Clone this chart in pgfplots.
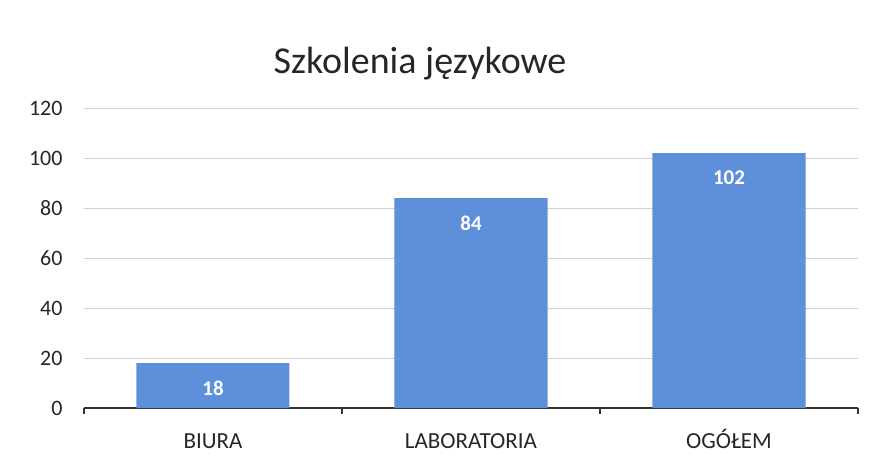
\documentclass[border=0pt]{standalone}
\usepackage{fontspec}
\setmainfont{Carlito}
\usepackage{pgfplots}
\pgfplotsset{compat=1.18}
\definecolor{barblue}{HTML}{5D8FDB}
\definecolor{gridgray}{HTML}{D0D0D0}
\begin{document}
\begin{tikzpicture}
\begin{axis}[
  scale only axis,
  width=774pt, height=300pt,
  xmin=-0.5, xmax=2.5,
  ymin=0, ymax=120,
  ytick={0,20,...,120},
  xtick={0,1,2},
  xticklabels={BIURA,LABORATORIA,OGÓŁEM},
  /pgf/number format/assume math mode=true,
  ymajorgrids, grid style={gridgray, line width=1pt},
  axis x line*=bottom,
  axis y line*=left,
  y axis line style={draw=none},
  x axis line style={line width=1.8pt, black!80, -},
  xtick style={draw=none},
  ytick style={draw=none},
  extra x ticks={-0.5,0.5,1.5,2.5},
  extra x tick labels={},
  extra x tick style={xtick style={draw=black!80, line width=1.2pt}, major tick length=6pt, tick align=outside, grid=none},
  ticklabel style={text=black!85},
  yticklabel style={font=\fontsize{22}{24}\selectfont, xshift=-18pt},
  xticklabel style={font=\fontsize{23}{26}\selectfont, anchor=base, yshift=-36pt},
  ybar, bar width=153pt,
  nodes near coords,
  nodes near coords style={font=\bfseries\fontsize{21}{24}\selectfont, text=white, anchor=north, yshift=-14pt},
  point meta=y,
]
\addplot[fill=barblue, draw=none] coordinates {(0,18) (1,84) (2,102)};
\end{axis}
\node[font=\fontsize{38}{42}\selectfont, text=black!85] at (336pt,344pt) {Szkolenia językowe};
\useasboundingbox (-84pt,-51pt) rectangle (787pt,408pt);
\end{tikzpicture}
\end{document}
